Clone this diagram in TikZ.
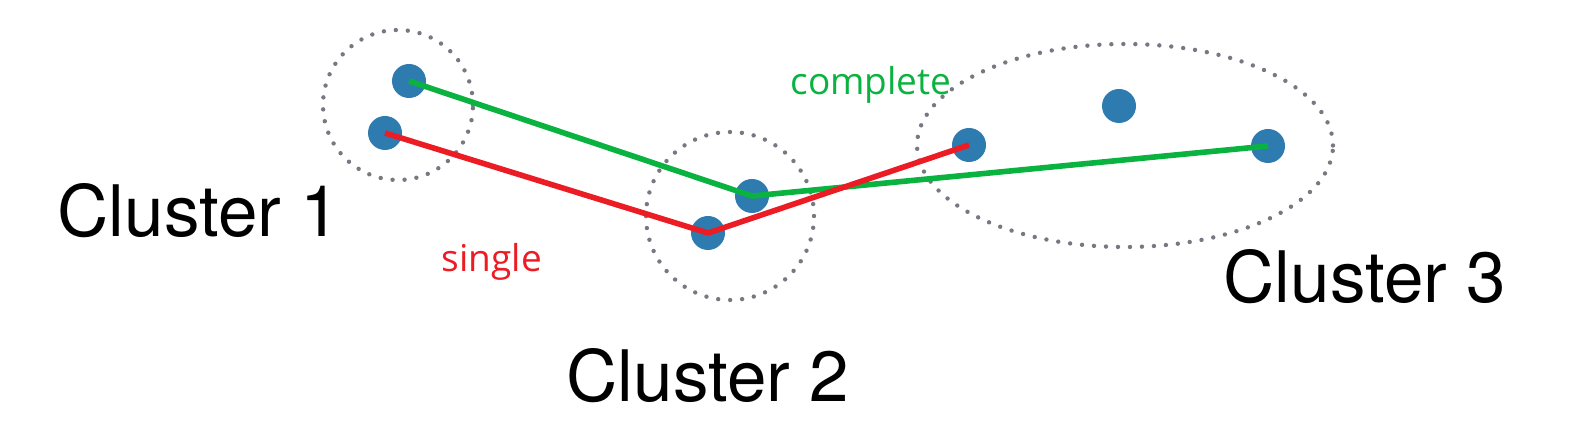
\documentclass[tikz,border=0pt]{standalone}
\usepackage{fontspec}
\setmainfont{TeX Gyre Heros}
\newfontfamily\labelfont{Open Sans}
\usepackage{tikz}
\usetikzlibrary{positioning}
\definecolor{colorPoint}{RGB}{46,123,176}
\definecolor{colorSingle}{RGB}{236,28,36}
\definecolor{colorComplete}{RGB}{10,178,64}
\definecolor{colorBorder}{RGB}{120,120,130}
\tikzset{
  point/.style={circle, fill=colorPoint, inner sep=0pt, minimum size=17pt},
  border/.style={colorBorder, line width=2.2pt, line cap=round, dash pattern=on 0pt off 6pt},
  clusterlabel/.style={anchor=base, font=\fontsize{35.5}{40}\selectfont},
  linklabel/.style={anchor=base, font=\labelfont\fontsize{18.5}{20}\selectfont}
}

\begin{document}
\begin{tikzpicture}[x=0.5pt, y=-0.5pt, line join=round]
\useasboundingbox (0,0) rectangle (1586,448);
% cluster borders
\draw[border] (398,105) circle [radius=37.5pt];
\draw[border] (730,216) circle [radius=42pt];
\draw[border] (1125,145.5) ellipse [x radius=104pt, y radius=50.75pt];
% points
\node[point] (p11) at (409,81) {};
\node[point] (p12) at (385,133) {};
\node[point] (p21) at (752,196) {};
\node[point] (p22) at (708,233) {};
\node[point] (p31) at (969,145) {};
\node[point] (p32) at (1119,106) {};
\node[point] (p33) at (1268,146) {};
% links
\draw[colorComplete, line width=2.8pt] (p11.center) -- (p21.center) -- (p33.center);
\draw[colorSingle, line width=2.8pt] (p12.center) -- (p22.center) -- (p31.center);
% labels
\node[clusterlabel] (c1) at (199,237) {Cluster 1};
\node[clusterlabel] (c2) at (708,402) {Cluster 2};
\node[clusterlabel] (c3) at (1365,303) {Cluster 3};
\node[linklabel, text=colorSingle] (single) at (492,272) {single};
\node[linklabel, text=colorComplete] (complete) at (871,95) {complete};
\end{tikzpicture}
\end{document}
